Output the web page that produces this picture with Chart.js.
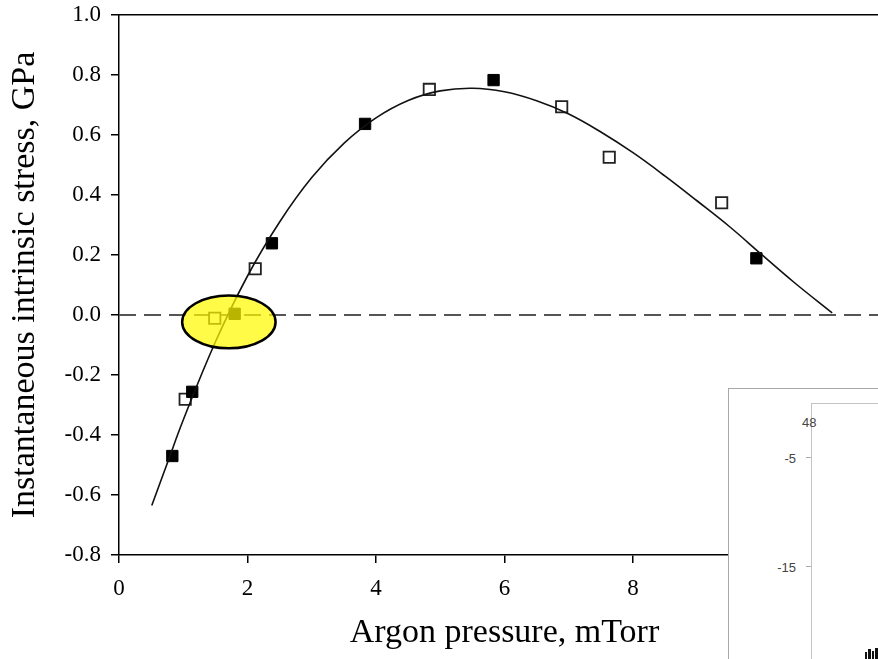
<!DOCTYPE html>
<html>
<head>
<meta charset="utf-8">
<script src="https://cdn.jsdelivr.net/npm/chart.js@4/dist/chart.umd.min.js"></script>
<style>
  html, body { margin: 0; padding: 0; background: #fff; overflow: hidden; width: 878px; height: 659px; }
  #wrap { position: relative; width: 900px; height: 659px; }
  #c { position: absolute; left: 0; top: 0; }
  .inset { position: absolute; background: #fff; }
  .itext { position: absolute; font-family: "Liberation Sans", Arial, sans-serif; font-size: 13px; color: #444; line-height: 13px; }
</style>
</head>
<body>
<div id="wrap">
  <canvas id="c" width="900" height="659"></canvas>
  <div class="inset" style="left:728px; top:388px; width:220px; height:300px; border-left:1.5px solid #a8a8a8; border-top:1.5px solid #a8a8a8;"></div>
  <div class="inset" style="left:811px; top:403px; width:120px; height:300px; border-left:1px solid #c4c4c4; border-top:1px solid #c4c4c4;"></div>
  <div class="itext" style="left:802px; top:416px;">48</div>
  <div class="itext" style="left:770px; top:452px; width:26px; text-align:right;">-5</div>
  <div class="itext" style="left:766px; top:561px; width:30px; text-align:right;">-15</div>
  <div class="inset" style="left:806px; top:457px; width:5px; height:1px; background:#aaa;"></div>
  <div class="inset" style="left:806px; top:566px; width:5px; height:1px; background:#aaa;"></div>
  <div class="inset" style="left:865px; top:652px; width:2px; height:7px; background:#111;"></div>
  <div class="inset" style="left:868px; top:649px; width:3px; height:10px; background:#111;"></div>
  <div class="inset" style="left:872px; top:651px; width:2px; height:8px; background:#111;"></div>
  <div class="inset" style="left:875px; top:648px; width:3px; height:11px; background:#111;"></div>
</div>
<script>
// ---- data ----
const openX   = [1.03, 1.49, 2.12, 4.83, 6.89, 7.63, 9.38];
const openY   = [-0.281, -0.011, 0.154, 0.752, 0.694, 0.526, 0.374];
const filledX = [0.83, 1.14, 1.80, 2.38, 3.83, 5.83, 9.92];
const filledY = [-0.470, -0.256, 0.004, 0.239, 0.637, 0.783, 0.189];
const curveX  = [0.51, 0.75, 1, 1.5, 2, 2.5, 3, 3.5, 4, 4.5, 5, 5.5, 6, 6.5, 7, 7.5, 8, 8.5, 9, 9.5, 10, 10.5, 11.1];
const curveY  = [-0.635, -0.495, -0.35, -0.09, 0.13, 0.31, 0.458, 0.572, 0.657, 0.715, 0.747, 0.756, 0.744, 0.714, 0.67, 0.61, 0.541, 0.463, 0.38, 0.295, 0.202, 0.11, 0.007];
const zeroX   = [0, 12];
const zeroY   = [0, 0];
const xTicks  = [0, 2, 4, 6, 8, 10];
const yTicks  = [-0.8, -0.6, -0.4, -0.2, 0.0, 0.2, 0.4, 0.6, 0.8, 1.0];
const xTitle  = "Argon pressure, mTorr";
const yTitle  = "Instantaneous intrinsic stress, GPa";
// highlighted region (data units)
const highlight = { cx: 1.71, cy: -0.023, rx: 0.727, ry: 0.088 };

const pts = (xs, ys) => xs.map((x, i) => ({ x: x, y: ys[i] }));

const ellipsePlugin = {
  id: 'highlightEllipse',
  afterDatasetsDraw(chart) {
    const xs = chart.scales.x, ys = chart.scales.y, ctx = chart.ctx;
    const cx = xs.getPixelForValue(highlight.cx);
    const cy = ys.getPixelForValue(highlight.cy);
    const rx = Math.abs(xs.getPixelForValue(highlight.cx + highlight.rx) - cx);
    const ry = Math.abs(ys.getPixelForValue(highlight.cy + highlight.ry) - cy);
    ctx.save();
    ctx.beginPath();
    ctx.ellipse(cx, cy, rx, ry, 0, 0, Math.PI * 2);
    ctx.fillStyle = 'rgba(255, 250, 0, 0.72)';
    ctx.fill();
    ctx.lineWidth = 2.5;
    ctx.strokeStyle = '#000';
    ctx.stroke();
    ctx.restore();
  }
};

Chart.defaults.color = '#000';
Chart.defaults.font.family = '"Liberation Serif", "Times New Roman", serif';

new Chart(document.getElementById('c'), {
  type: 'scatter',
  data: {
    datasets: [
      { type: 'line', data: pts(curveX, curveY), borderColor: '#111', borderWidth: 1.6,
        pointRadius: 0, tension: 0.4, fill: false, order: 0 },
      { data: pts(filledX, filledY), pointStyle: 'rect', pointRadius: 8,
        backgroundColor: '#000', borderColor: '#000', borderWidth: 1, order: 1 },
      { data: pts(openX, openY), pointStyle: 'rect', pointRadius: 8,
        backgroundColor: '#fff', borderColor: '#222', borderWidth: 1.8, order: 2 },
      { type: 'line', data: pts(zeroX, zeroY), borderColor: '#555', borderWidth: 2,
        borderDash: [17, 8], pointRadius: 0, fill: false, order: 3 }
    ]
  },
  options: {
    responsive: false,
    animation: false,
    layout: { padding: { left: 0, right: 10, top: 0, bottom: 0 } },
    plugins: { legend: { display: false }, tooltip: { enabled: false } },
    scales: {
      x: {
        type: 'linear', position: 'bottom', min: 0, max: 12,
        afterBuildTicks: s => { s.ticks = xTicks.map(v => ({ value: v })); },
        afterFit: s => { s.height = 104; },
        ticks: { font: { size: 23 }, padding: 12, maxRotation: 0, autoSkip: false,
                 callback: v => String(v) },
        grid: { display: true, drawOnChartArea: false, drawTicks: true, tickLength: 8,
                color: '#000', lineWidth: 1.5 },
        border: { display: true, color: '#000', width: 1.5 },
        title: { display: true, text: xTitle, font: { size: 34 }, padding: { top: 0, bottom: 6 } }
      },
      xTop: {
        type: 'linear', position: 'top', min: 0, max: 12,
        afterFit: s => { s.height = 15; },
        ticks: { display: false },
        grid: { display: false },
        border: { display: true, color: '#000', width: 1.5 }
      },
      y: {
        type: 'linear', position: 'left', min: -0.8, max: 1.0,
        afterBuildTicks: s => { s.ticks = yTicks.map(v => ({ value: v })); },
        afterFit: s => { s.width = 119; },
        ticks: { font: { size: 23, lineHeight: 0.4 }, padding: 10, autoSkip: false,
                 callback: v => Number(v).toFixed(1) },
        grid: { display: true, drawOnChartArea: false, drawTicks: true, tickLength: 8,
                color: '#000', lineWidth: 1.5 },
        border: { display: true, color: '#000', width: 1.5 },
        title: { display: true, text: yTitle, font: { size: 34 }, padding: { top: 5, bottom: 0 } }
      }
    }
  },
  plugins: [ellipsePlugin]
});
</script>
</body>
</html>
